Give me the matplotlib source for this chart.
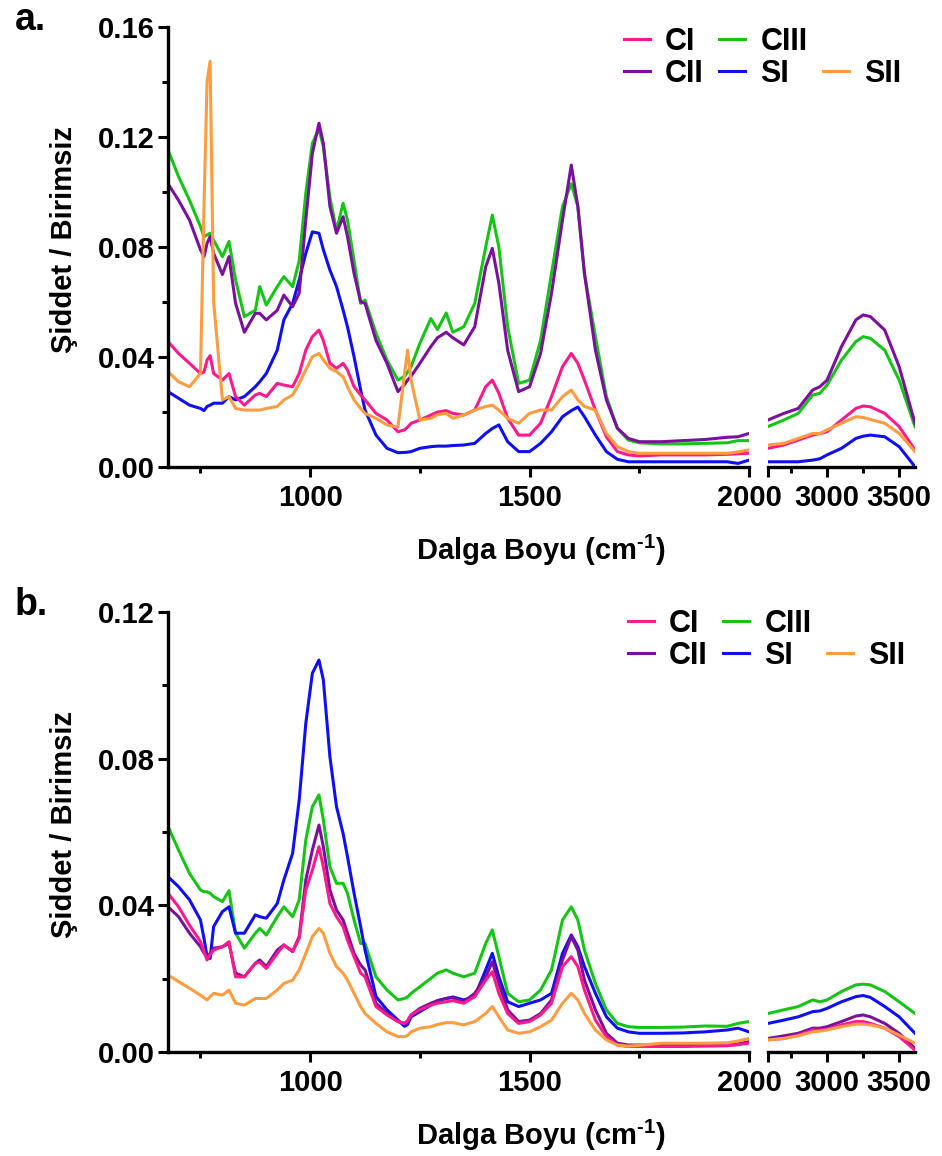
import matplotlib
matplotlib.use("Agg")
import matplotlib.pyplot as plt
from matplotlib.lines import Line2D
from matplotlib.ticker import MultipleLocator, FormatStrFormatter, FixedLocator

plt.rcParams['font.family'] = ['Liberation Sans', 'DejaVu Sans']
plt.rcParams['font.weight'] = 'bold'
plt.rcParams['mathtext.fontset'] = 'custom'
plt.rcParams['mathtext.rm'] = 'Liberation Sans:bold'
plt.rcParams['mathtext.bf'] = 'Liberation Sans:bold'
plt.rcParams['mathtext.default'] = 'rm'

##########################################
# data

# wavenumber grid, left (fingerprint) part
wn_left = [676, 700, 725, 750, 758, 765, 772, 780, 800, 815, 830, 850, 875, 885, 900,
           925, 940, 960, 975, 990, 1005, 1020, 1030, 1045, 1060, 1075, 1085, 1100, 1115, 1125,
           1150, 1175, 1200, 1215, 1222, 1230, 1250, 1275, 1290, 1310, 1325, 1350, 1375, 1400,
           1415, 1430, 1450, 1475, 1500, 1525, 1550, 1575, 1595, 1610, 1625, 1650, 1675, 1700,
           1725, 1750, 1800, 1850, 1900, 1950, 1975, 2000]
# wavenumber grid, right (OH / CH) part
wn_right = [2590, 2700, 2800, 2900, 2950, 3000, 3100, 3200, 3250, 3300, 3400, 3500, 3610]

series_names = ['CI', 'CII', 'CIII', 'SI', 'SII']
series_colors = ['#FF1A8C', '#7B0F9E', '#15C515', '#0F0FF5', '#FF9C40']

# panel a
a_CI = [0.0456, 0.0413, 0.0377, 0.0340, 0.0345, 0.0389, 0.0405, 0.0340, 0.0316, 0.0340, 0.0256, 0.0225, 0.0262, 0.0268, 0.0256,
        0.0304, 0.0298, 0.0292, 0.0340, 0.0425, 0.0474, 0.0498, 0.0460, 0.0377, 0.0359, 0.0377, 0.0353, 0.0292, 0.0262, 0.0244,
        0.0195, 0.0171, 0.0128, 0.0135, 0.0145, 0.0159, 0.0171, 0.0189, 0.0200, 0.0205, 0.0195, 0.0189, 0.0207, 0.0292,
        0.0316, 0.0268, 0.0177, 0.0116, 0.0116, 0.0159, 0.0256, 0.0365, 0.0413, 0.0377, 0.0316, 0.0207, 0.0110, 0.0056,
        0.0044, 0.0040, 0.0044, 0.0044, 0.0044, 0.0046, 0.0048, 0.0050]
a_CII = [0.1030, 0.0970, 0.0898, 0.0790, 0.0765, 0.0813, 0.0838, 0.0777, 0.0700, 0.0765, 0.0595, 0.0490, 0.0559, 0.0559, 0.0535,
         0.0570, 0.0625, 0.0583, 0.0632, 0.0898, 0.1140, 0.1250, 0.1177, 0.0947, 0.0850, 0.0910, 0.0838, 0.0704, 0.0601, 0.0595,
         0.0460, 0.0377, 0.0274, 0.0300, 0.0316, 0.0330, 0.0377, 0.0438, 0.0470, 0.0490, 0.0470, 0.0444, 0.0510, 0.0728,
         0.0795, 0.0668, 0.0425, 0.0274, 0.0292, 0.0413, 0.0632, 0.0898, 0.1098, 0.0947, 0.0704, 0.0425, 0.0244, 0.0141,
         0.0104, 0.0092, 0.0092, 0.0096, 0.0100, 0.0108, 0.0110, 0.0122]
a_CIII = [0.1153, 0.1056, 0.0970, 0.0874, 0.0838, 0.0844, 0.0850, 0.0825, 0.0765, 0.0820, 0.0680, 0.0547, 0.0570, 0.0656, 0.0589,
          0.0656, 0.0692, 0.0656, 0.0750, 0.0995, 0.1177, 0.1230, 0.1165, 0.0980, 0.0860, 0.0959, 0.0898, 0.0750, 0.0595, 0.0607,
          0.0486, 0.0389, 0.0316, 0.0330, 0.0345, 0.0365, 0.0450, 0.0540, 0.0500, 0.0560, 0.0490, 0.0510, 0.0595, 0.0800,
          0.0916, 0.0800, 0.0510, 0.0304, 0.0316, 0.0460, 0.0704, 0.0947, 0.1030, 0.0947, 0.0704, 0.0474, 0.0256, 0.0141,
          0.0098, 0.0088, 0.0084, 0.0084, 0.0086, 0.0088, 0.0096, 0.0096]
a_SI = [0.0274, 0.0250, 0.0225, 0.0213, 0.0205, 0.0220, 0.0225, 0.0232, 0.0232, 0.0256, 0.0244, 0.0256, 0.0292, 0.0310, 0.0340,
        0.0425, 0.0535, 0.0595, 0.0680, 0.0777, 0.0855, 0.0850, 0.0790, 0.0716, 0.0656, 0.0571, 0.0510, 0.0401, 0.0280, 0.0207,
        0.0116, 0.0068, 0.0052, 0.0053, 0.0054, 0.0056, 0.0068, 0.0074, 0.0076, 0.0076, 0.0078, 0.0080, 0.0086, 0.0122,
        0.0140, 0.0153, 0.0092, 0.0056, 0.0056, 0.0086, 0.0128, 0.0183, 0.0205, 0.0218, 0.0183, 0.0116, 0.0056, 0.0028,
        0.0019, 0.0019, 0.0019, 0.0019, 0.0019, 0.0019, 0.0013, 0.0025]
a_SII = [0.0347, 0.0310, 0.0292, 0.0340, 0.0950, 0.1400, 0.1475, 0.0600, 0.0244, 0.0256, 0.0213, 0.0207, 0.0207, 0.0207, 0.0213,
         0.0220, 0.0244, 0.0262, 0.0304, 0.0353, 0.0401, 0.0413, 0.0389, 0.0359, 0.0347, 0.0328, 0.0292, 0.0244, 0.0213, 0.0195,
         0.0177, 0.0153, 0.0145, 0.0340, 0.0425, 0.0316, 0.0171, 0.0177, 0.0190, 0.0195, 0.0177, 0.0189, 0.0207, 0.0220,
         0.0225, 0.0207, 0.0177, 0.0159, 0.0195, 0.0207, 0.0207, 0.0256, 0.0280, 0.0244, 0.0220, 0.0207, 0.0122, 0.0074,
         0.0056, 0.0050, 0.0050, 0.0050, 0.0050, 0.0050, 0.0055, 0.0062]

a_CI_r = [0.0068, 0.0080, 0.0098, 0.0116, 0.0122, 0.0128, 0.0171, 0.0213, 0.0222, 0.0219, 0.0195, 0.0147, 0.0062]
a_CII_r = [0.0171, 0.0195, 0.0213, 0.0280, 0.0292, 0.0316, 0.0438, 0.0535, 0.0553, 0.0547, 0.0498, 0.0365, 0.0159]
a_CIII_r = [0.0147, 0.0171, 0.0195, 0.0262, 0.0268, 0.0298, 0.0389, 0.0456, 0.0474, 0.0468, 0.0425, 0.0316, 0.0147]
a_SI_r = [0.0019, 0.0019, 0.0019, 0.0025, 0.0030, 0.0044, 0.0068, 0.0104, 0.0112, 0.0116, 0.0110, 0.0074, 0.0001]
a_SII_r = [0.0080, 0.0086, 0.0104, 0.0122, 0.0122, 0.0135, 0.0159, 0.0183, 0.0180, 0.0173, 0.0159, 0.0122, 0.0056]

# panel b
b_CI = [0.0433, 0.0396, 0.0346, 0.0301, 0.0275, 0.0251, 0.0265, 0.0278, 0.0287, 0.0301, 0.0205, 0.0205, 0.0242, 0.0245, 0.0228,
        0.0269, 0.0292, 0.0274, 0.0310, 0.0442, 0.0496, 0.0560, 0.0505, 0.0405, 0.0369, 0.0342, 0.0305, 0.0260, 0.0215, 0.0205,
        0.0124, 0.0101, 0.0083, 0.0078, 0.0085, 0.0101, 0.0115, 0.0128, 0.0133, 0.0137, 0.0140, 0.0133, 0.0151, 0.0196,
        0.0219, 0.0160, 0.0105, 0.0078, 0.0083, 0.0101, 0.0133, 0.0233, 0.0260, 0.0233, 0.0169, 0.0087, 0.0042, 0.0019,
        0.0015, 0.0015, 0.0015, 0.0015, 0.0016, 0.0017, 0.0020, 0.0024]
b_CII = [0.0396, 0.0369, 0.0324, 0.0287, 0.0270, 0.0260, 0.0269, 0.0283, 0.0287, 0.0296, 0.0215, 0.0205, 0.0242, 0.0251, 0.0233,
         0.0278, 0.0292, 0.0274, 0.0315, 0.0469, 0.0551, 0.0619, 0.0560, 0.0442, 0.0387, 0.0360, 0.0324, 0.0269, 0.0237, 0.0224,
         0.0133, 0.0105, 0.0083, 0.0078, 0.0085, 0.0101, 0.0119, 0.0133, 0.0140, 0.0146, 0.0148, 0.0137, 0.0160, 0.0205,
         0.0246, 0.0187, 0.0115, 0.0083, 0.0087, 0.0105, 0.0142, 0.0251, 0.0315, 0.0278, 0.0196, 0.0115, 0.0051, 0.0024,
         0.0019, 0.0019, 0.0019, 0.0019, 0.0020, 0.0020, 0.0022, 0.0028]
b_CIII = [0.0615, 0.0551, 0.0487, 0.0442, 0.0437, 0.0437, 0.0433, 0.0424, 0.0410, 0.0440, 0.0324, 0.0283, 0.0324, 0.0337, 0.0319,
          0.0369, 0.0396, 0.0369, 0.0415, 0.0578, 0.0669, 0.0701, 0.0633, 0.0505, 0.0460, 0.0460, 0.0433, 0.0360, 0.0296, 0.0296,
          0.0205, 0.0169, 0.0142, 0.0146, 0.0150, 0.0160, 0.0178, 0.0201, 0.0215, 0.0224, 0.0215, 0.0205, 0.0215, 0.0296,
          0.0333, 0.0260, 0.0160, 0.0137, 0.0142, 0.0169, 0.0224, 0.0360, 0.0396, 0.0360, 0.0278, 0.0187, 0.0115, 0.0078,
          0.0069, 0.0067, 0.0067, 0.0068, 0.0071, 0.0070, 0.0078, 0.0083]
b_SI = [0.0478, 0.0451, 0.0415, 0.0360, 0.0310, 0.0260, 0.0255, 0.0342, 0.0383, 0.0396, 0.0324, 0.0324, 0.0374, 0.0369, 0.0365,
        0.0405, 0.0469, 0.0542, 0.0687, 0.0896, 0.1033, 0.1069, 0.1015, 0.0805, 0.0669, 0.0596, 0.0533, 0.0433, 0.0342, 0.0278,
        0.0151, 0.0115, 0.0087, 0.0070, 0.0075, 0.0096, 0.0110, 0.0128, 0.0140, 0.0146, 0.0150, 0.0142, 0.0151, 0.0224,
        0.0269, 0.0205, 0.0137, 0.0124, 0.0133, 0.0142, 0.0160, 0.0269, 0.0319, 0.0287, 0.0233, 0.0160, 0.0096, 0.0065,
        0.0055, 0.0051, 0.0051, 0.0052, 0.0055, 0.0060, 0.0065, 0.0055]
b_SII = [0.0210, 0.0192, 0.0174, 0.0155, 0.0148, 0.0142, 0.0151, 0.0160, 0.0155, 0.0169, 0.0133, 0.0128, 0.0146, 0.0146, 0.0146,
         0.0169, 0.0187, 0.0196, 0.0224, 0.0269, 0.0315, 0.0337, 0.0324, 0.0269, 0.0233, 0.0215, 0.0196, 0.0160, 0.0124, 0.0105,
         0.0078, 0.0055, 0.0042, 0.0042, 0.0045, 0.0055, 0.0065, 0.0069, 0.0075, 0.0080, 0.0080, 0.0074, 0.0083, 0.0105,
         0.0124, 0.0096, 0.0060, 0.0051, 0.0055, 0.0069, 0.0087, 0.0133, 0.0160, 0.0142, 0.0105, 0.0060, 0.0033, 0.0019,
         0.0016, 0.0018, 0.0024, 0.0024, 0.0024, 0.0025, 0.0030, 0.0037]

b_CI_r = [0.0033, 0.0037, 0.0046, 0.0060, 0.0060, 0.0062, 0.0074, 0.0083, 0.0083, 0.0078, 0.0065, 0.0042, 0.0005]
b_CII_r = [0.0037, 0.0044, 0.0051, 0.0065, 0.0065, 0.0069, 0.0083, 0.0098, 0.0101, 0.0096, 0.0078, 0.0051, 0.0010]
b_CIII_r = [0.0105, 0.0115, 0.0124, 0.0142, 0.0137, 0.0142, 0.0165, 0.0183, 0.0185, 0.0183, 0.0165, 0.0137, 0.0105]
b_SI_r = [0.0078, 0.0087, 0.0096, 0.0110, 0.0112, 0.0119, 0.0137, 0.0151, 0.0154, 0.0149, 0.0124, 0.0096, 0.0051]
b_SII_r = [0.0033, 0.0037, 0.0044, 0.0055, 0.0057, 0.0060, 0.0069, 0.0076, 0.0076, 0.0074, 0.0065, 0.0046, 0.0024]

panels = [
    {'tag': 'a.', 'ymax': 0.16, 'left': [a_CI, a_CII, a_CIII, a_SI, a_SII],
     'right': [a_CI_r, a_CII_r, a_CIII_r, a_SI_r, a_SII_r]},
    {'tag': 'b.', 'ymax': 0.12, 'left': [b_CI, b_CII, b_CIII, b_SI, b_SII],
     'right': [b_CI_r, b_CII_r, b_CIII_r, b_SI_r, b_SII_r]},
]

##########################################
W, H = 942, 1156
fig = plt.figure(figsize=(W / 100, H / 100), dpi=100)

# pixel layout of each panel (top, bottom of plot area)
panel_px = [(27, 467), (612, 1052)]
legend_px = [(624, 27), (628, 609)]
xl0, xl1 = 168, 749     # left segment
xr0, xr1 = 768, 915     # right segment
draw_order = [2, 3, 1, 0, 4]   # CIII, SI, CII, CI, SII

def style_axis(ax, ymax, show_y):
    for s in ['top', 'right']:
        ax.spines[s].set_visible(False)
    ax.spines['bottom'].set_linewidth(2.4)
    ax.spines['left'].set_linewidth(2.4)
    ax.set_ylim(0, ymax)
    ax.tick_params(which='major', direction='out', length=7.5, width=2.2, labelsize=21, pad=2)
    ax.tick_params(which='minor', direction='out', length=4, width=2.2)
    ax.tick_params(axis='x', which='major', pad=5)
    if show_y:
        ax.yaxis.set_major_locator(MultipleLocator(0.04))
        ax.yaxis.set_minor_locator(MultipleLocator(0.02))
        ax.yaxis.set_major_formatter(FormatStrFormatter('%.2f'))
    else:
        ax.spines['left'].set_visible(False)
        ax.tick_params(axis='y', which='both', left=False, labelleft=False)

for k, p in enumerate(panels):
    top, bot = panel_px[k]
    y0 = 1 - bot / H
    h = (bot - top) / H
    axl = fig.add_axes([xl0 / W, y0, (xl1 - xl0) / W, h])
    axr = fig.add_axes([xr0 / W, y0, (xr1 - xr0) / W, h])
    axr.patch.set_visible(False)

    handles = {}
    for i in draw_order:
        ln, = axl.plot(wn_left, p['left'][i], color=series_colors[i], lw=2.2, label=series_names[i])
        axr.plot(wn_right, p['right'][i], color=series_colors[i], lw=2.2)
        handles[i] = ln

    axl.set_xlim(676, 2000)
    axr.set_xlim(2590, 3610)
    style_axis(axl, p['ymax'], True)
    style_axis(axr, p['ymax'], False)

    axl.xaxis.set_major_locator(FixedLocator([1000, 1500, 2000]))
    axl.xaxis.set_minor_locator(FixedLocator([750, 1250, 1750]))
    axr.xaxis.set_major_locator(FixedLocator([2590, 3000, 3500]))
    axr.xaxis.set_minor_locator(FixedLocator([2750, 3250]))
    axr.set_xticklabels(['', '3000', '3500'])

    axl.set_ylabel('Şiddet / Birimsiz', fontsize=21, fontweight='bold')
    axl.yaxis.set_label_coords(-0.155, 0.518)
    axl.set_xlabel(r'Dalga Boyu (cm$^{\text{-1}}$)', fontsize=21, fontweight='bold')
    axl.xaxis.label.set_va('baseline')
    axl.xaxis.set_label_coords(0.642, -0.211)

    fig.text(15 / W, 1 - (top + 3) / H, p['tag'], fontsize=27, fontweight='bold', va='baseline')

    # legend: CI CIII / CII SI SII  (blank slot keeps SII on the second row)
    blank = Line2D([], [], color='none')
    hl = [handles[0], handles[1], handles[2], handles[3], blank, handles[4]]
    lb = ['CI', 'CII', 'CIII', 'SI', '', 'SII']
    lx, ly = legend_px[k]
    fig.legend(hl, lb, ncol=3, loc='upper left', bbox_to_anchor=(lx / W, 1 - ly / H),
               frameon=False, borderpad=0, borderaxespad=0,
               handlelength=0.85, handletextpad=0.5, columnspacing=0.5, labelspacing=0.05,
               prop={'size': 22, 'weight': 'bold'})

fig.savefig('out.png', dpi=100)
